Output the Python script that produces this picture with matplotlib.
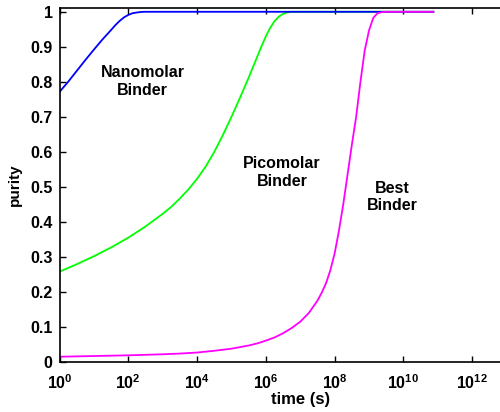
import numpy as np
from matplotlib import pyplot as plt

plt.rcParams['font.family'] = 'Liberation Sans'
plt.rcParams['font.weight'] = 'bold'
plt.rcParams['mathtext.fontset'] = 'custom'
plt.rcParams['mathtext.rm'] = 'Liberation Sans:bold'
plt.rcParams['mathtext.bf'] = 'Liberation Sans:bold'

# log10(time) and purity
nano_logt = [0, 0.25, 0.5, 0.75, 1.0, 1.25, 1.5, 1.625, 1.75, 1.875, 2.0, 2.125, 2.25,
             2.375, 2.5, 10.87]
nano_purity = [0.771, 0.80, 0.831, 0.862, 0.892, 0.921, 0.948, 0.962, 0.974, 0.984, 0.991,
               0.996, 0.998, 0.9995, 1.0, 1.0]

pico_logt = [0, 0.5, 1.0, 1.5, 2.0, 2.5, 3.0, 3.25, 3.5, 3.75, 4.0, 4.25, 4.5, 4.75, 5.0,
             5.25, 5.5, 5.75, 5.875, 6.0, 6.125, 6.25, 6.375, 6.5, 6.625, 6.75, 10.87]
pico_purity = [0.258, 0.279, 0.302, 0.327, 0.355, 0.387, 0.423, 0.443, 0.467, 0.493, 0.523,
               0.558, 0.60, 0.648, 0.70, 0.755, 0.812, 0.872, 0.902, 0.93, 0.954, 0.973,
               0.986, 0.994, 0.998, 1.0, 1.0]

best_logt = [0, 1, 2, 3, 3.5, 4, 4.5, 5.0, 5.5, 5.75, 6.0, 6.25, 6.5, 6.75, 7.0, 7.25, 7.5,
             7.625, 7.75, 7.875, 8.0, 8.125, 8.25, 8.375, 8.5, 8.625, 8.75, 8.875, 9.0,
             9.125, 9.25, 9.375, 9.5, 10.87]
best_purity = [0.015, 0.017, 0.019, 0.022, 0.024, 0.027, 0.032, 0.038, 0.047, 0.053, 0.061,
               0.07, 0.082, 0.097, 0.115, 0.14, 0.175, 0.198, 0.225, 0.262, 0.31, 0.375,
               0.45, 0.535, 0.62, 0.70, 0.80, 0.89, 0.947, 0.983, 0.996, 0.999, 1.0, 1.0]

xticks = [1e0, 1e2, 1e4, 1e6, 1e8, 1e10, 1e12]
xticklabels = [r'$10^{%d}$' % int(np.log10(v)) for v in xticks]
yticks = np.round(np.arange(0, 1.01, 0.1), 1)
yticklabels = ['0'] + ['%.1f' % v for v in yticks[1:-1]] + ['1']

fig = plt.figure(figsize=(5, 4.12), dpi=100)
ax = fig.add_axes([0.119, 0.1214, 0.963, 0.8585])

ax.plot(10 ** np.array(pico_logt), pico_purity, color=(0, 1, 0), lw=1.3)
ax.plot(10 ** np.array(nano_logt), nano_purity, color=(0, 0, 1), lw=1.3)
ax.plot(10 ** np.array(best_logt), best_purity, color=(1, 0, 1), lw=1.3)

ax.set_xscale('log')
ax.set_xlim(1, 1e14)
ax.set_ylim(0, 1.01)
ax.set_xticks(xticks)
ax.set_xticklabels(xticklabels, fontsize=11.5)
ax.minorticks_off()
ax.set_yticks(yticks)
ax.set_yticklabels(yticklabels, fontsize=11.5, fontweight='bold')
ax.tick_params(direction='in', top=True, right=True, length=4, width=1)
ax.tick_params(axis='x', pad=8)
ax.tick_params(axis='y', pad=5)
for s in ax.spines.values():
    s.set_linewidth(1.2)

ax.set_xlabel('time (s)', fontsize=12, fontweight='bold', labelpad=0)
ax.set_ylabel('purity', fontsize=11, fontweight='bold', labelpad=6)

ax.text(10 ** 2.41, 0.801, 'Nanomolar\nBinder', ha='center', va='center',
        fontsize=11.5, fontweight='bold', linespacing=1.2)
ax.text(10 ** 6.47, 0.541, 'Picomolar\nBinder', ha='center', va='center',
        fontsize=11.5, fontweight='bold', linespacing=1.2)
ax.text(10 ** 9.67, 0.471, 'Best\nBinder', ha='center', va='center',
        fontsize=11.5, fontweight='bold', linespacing=1.2)

fig.savefig('out.png', dpi=100)
